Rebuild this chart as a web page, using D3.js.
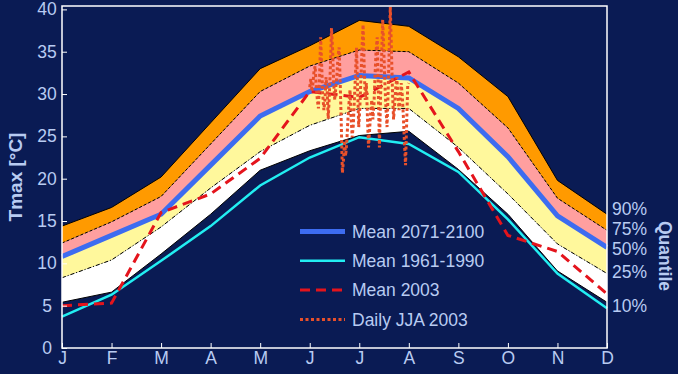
<!DOCTYPE html>
<html>
<head>
<meta charset="utf-8">
<script src="https://cdn.jsdelivr.net/npm/d3@7/dist/d3.min.js"></script>
<style>
  body { margin: 0; background: #0a1b54; }
  svg { display: block; font-family: "Liberation Sans", Arial, sans-serif; }
</style>
</head>
<body>
<svg width="678" height="374"></svg>
<script>
const months = ['J', 'F', 'M', 'A', 'M', 'J', 'J', 'A', 'S', 'O', 'N', 'D'];
const yTicks = [0, 5, 10, 15, 20, 25, 30, 35, 40];

// quantiles of the 2071-2100 scenario (monthly Tmax)
const q90 = [14.4, 16.6, 20.2, 26.6, 33.0, 35.7, 38.7, 38.0, 34.4, 29.7, 19.8, 15.8];
const q75 = [12.4, 14.9, 17.9, 24.1, 30.3, 33.3, 35.2, 35.0, 31.3, 26.0, 17.7, 13.9];
const q50 = [10.8, 13.3, 15.8, 21.6, 27.4, 30.3, 32.2, 31.9, 28.3, 22.6, 15.6, 11.9];
const q25 = [8.3, 10.4, 14.3, 18.9, 23.2, 26.3, 28.3, 28.3, 23.7, 18.2, 12.3, 8.8];
const q10 = [5.4, 6.6, 11.1, 15.8, 21.0, 23.3, 25.1, 25.6, 21.1, 15.8, 9.1, 5.4];

const mean20712100 = [10.8, 13.3, 15.8, 21.6, 27.4, 30.3, 32.2, 31.9, 28.3, 22.6, 15.6, 11.9];
const mean19611990 = [3.7, 6.3, 10.3, 14.4, 19.2, 22.5, 24.9, 24.1, 20.8, 15.2, 8.8, 4.7];
const mean2003 = [5.0, 5.3, 16.0, 18.2, 22.4, 30.3, 29.6, 32.6, 23.2, 13.3, 11.4, 6.4];

// daily Tmax 1 June - 31 Aug 2003
const dailyJJA2003 = [
  30.8, 31.8, 30.3, 31.3, 32.8, 33.3, 30.8, 29.3, 28.3, 31.8,
  36.7, 33.3, 29.8, 28.1, 29.3, 32.0, 30.3, 27.1, 29.8, 33.3,
  37.8, 35.3, 31.3, 29.3, 30.8, 32.3, 34.5, 35.5, 31.3, 26.3,
  20.7, 22.2, 24.5, 22.7, 24.2, 26.8, 28.8, 30.5, 27.3, 24.9,
  26.3, 29.3, 32.3, 35.5, 30.3, 26.1, 28.3, 31.8, 35.3, 38.2,
  33.3, 29.3, 31.3, 27.3, 23.7, 25.8, 27.8, 29.3, 27.0, 28.8,
  32.3, 35.2, 36.7, 30.3, 23.7, 29.3, 34.3, 38.8, 35.3, 31.3,
  28.3, 26.1, 30.3, 35.3, 40.3, 35.3, 30.3, 27.0, 28.8, 30.8,
  32.0, 29.8, 28.1, 29.3, 31.3, 29.8, 27.3, 24.2, 21.6, 26.5,
  31.0, 31.3
];

const quantileNames = ['90%', '75%', '50%', '25%', '10%'];
const quantileLabelAt = [16.4, 14.1, 11.7, 9.0, 5.0];
const legendNames = ['Mean 2071-2100', 'Mean 1961-1990', 'Mean 2003', 'Daily JJA 2003'];

const textColor = '#b8cbf2';
const svg = d3.select('svg');

const x = d3.scaleLinear().domain([1, 12]).range([62, 607]);
const y = d3.scaleLinear().domain([0, 40.4]).range([348, 6]);
const dayToMonth = d3.scaleLinear().domain([0, dailyJJA2003.length - 1]).range([6, 8]);

const band = (lo, hi) => d3.area()
  .x((d, i) => x(i + 1))
  .y0((d, i) => y(lo[i]))
  .y1((d, i) => y(hi[i]))(months);
const line = vals => d3.line().x((d, i) => x(i + 1)).y(d => y(d))(vals);

// quantile bands
const bands = [
  [q10, q25, '#ffffff'],
  [q25, q50, '#fff89c'],
  [q50, q75, '#ff9f9f'],
  [q75, q90, '#ff9a00']
];
bands.forEach(([lo, hi, fill]) => {
  svg.append('path').attr('d', band(lo, hi)).attr('fill', fill);
});

// quantile edges
const edges = [
  [q90, null],
  [q75, '3,2'],
  [q25, '4,2,1,2'],
  [q10, null]
];
edges.forEach(([vals, dash]) => {
  svg.append('path')
    .attr('d', line(vals))
    .attr('fill', 'none')
    .attr('stroke', '#000')
    .attr('stroke-width', 1)
    .attr('stroke-dasharray', dash);
});

const styles = [
  { color: '#3d6cf0', width: 5, dash: null },
  { color: '#22eef2', width: 2.5, dash: null },
  { color: '#e4141c', width: 3, dash: '10,6' },
  { color: '#e8502a', width: 3, dash: '3,2.5' }
];

[mean20712100, mean19611990, mean2003].forEach((vals, i) => {
  svg.append('path')
    .attr('d', line(vals))
    .attr('fill', 'none')
    .attr('stroke', styles[i].color)
    .attr('stroke-width', styles[i].width)
    .attr('stroke-dasharray', styles[i].dash);
});

svg.append('path')
  .attr('d', d3.line().x((d, i) => x(dayToMonth(i))).y(d => y(d))(dailyJJA2003))
  .attr('fill', 'none')
  .attr('stroke', styles[3].color)
  .attr('stroke-width', styles[3].width)
  .attr('stroke-dasharray', styles[3].dash);

// axes
const yAxis = svg.append('g')
  .attr('transform', `translate(${x(1)},0)`)
  .call(d3.axisLeft(y).tickValues(yTicks).tickSize(-5));
const xAxis = svg.append('g')
  .attr('transform', `translate(0,${y(0)})`)
  .call(d3.axisBottom(x).tickValues(d3.range(1, 13)).tickFormat((d, i) => months[i]).tickSize(-5).tickPadding(4));

[yAxis, xAxis].forEach(g => {
  g.select('.domain').remove();
  g.selectAll('line').attr('stroke', '#fff');
  g.selectAll('text').attr('fill', textColor).attr('font-size', 17.5);
});
yAxis.selectAll('text').attr('text-anchor', 'middle').attr('x', -15);

svg.append('rect')
  .attr('x', x(1)).attr('y', y(40.4))
  .attr('width', x(12) - x(1)).attr('height', y(0) - y(40.4))
  .attr('fill', 'none').attr('stroke', '#fff').attr('stroke-width', 1.5);

svg.append('text')
  .attr('transform', `translate(22,${(y(0) + y(40.4)) / 2}) rotate(-90)`)
  .attr('text-anchor', 'middle')
  .attr('font-size', 19).attr('font-weight', 'bold')
  .attr('fill', textColor)
  .text('Tmax [°C]');

// quantile labels on the right
svg.selectAll('.qlabel')
  .data(quantileNames)
  .enter()
  .append('text')
  .attr('x', x(12) + 5)
  .attr('y', (d, i) => y(quantileLabelAt[i]))
  .attr('dy', '0.35em')
  .attr('font-size', 17.5)
  .attr('fill', textColor)
  .text(d => d);

svg.append('text')
  .attr('transform', 'translate(659,256) rotate(90)')
  .attr('text-anchor', 'middle')
  .attr('font-size', 17.5).attr('font-weight', 'bold')
  .attr('fill', textColor)
  .text('Quantile');

// legend
const legend = svg.append('g').attr('transform', 'translate(300,231.5)');
legendNames.forEach((name, i) => {
  const row = legend.append('g').attr('transform', `translate(0,${i * 29.3})`);
  row.append('line')
    .attr('x1', 0).attr('x2', 45)
    .attr('stroke', styles[i].color)
    .attr('stroke-width', styles[i].width)
    .attr('stroke-dasharray', styles[i].dash);
  row.append('text')
    .attr('x', 52)
    .attr('dy', '0.35em')
    .attr('font-size', 17.5)
    .attr('fill', textColor)
    .text(name);
});
</script>
</body>
</html>
